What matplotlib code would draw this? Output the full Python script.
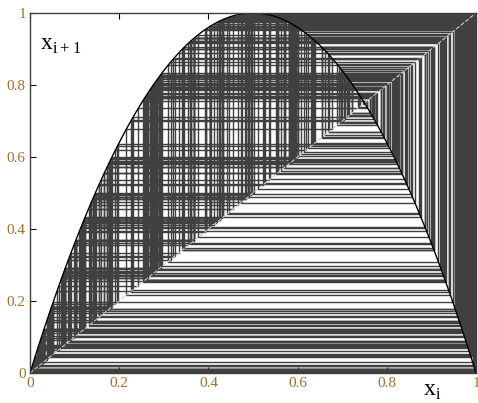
import matplotlib
matplotlib.use('Agg')
import matplotlib.pyplot as plt
import numpy as np

# logistic map settings (peak at 0.5 -> 1, fixed point at 0.75)
r = 4.0
x0 = 0.7501
n_iter = 400
xticks = [0, 0.2, 0.4, 0.6, 0.8, 1]
yticks = [0, 0.2, 0.4, 0.6, 0.8, 1]
tick_labels = ['0', '0.2', '0.4', '0.6', '0.8', '1']


def f(x):
    return r * x * (1 - x)


# build cobweb path
xs = [x0]
ys = [x0]
x = x0
for _ in range(n_iter):
    y = f(x)
    xs += [x, y]
    ys += [y, y]
    x = y

fig = plt.figure(figsize=(4.78, 4.03), dpi=100)
ax = fig.add_axes([30 / 478, 30 / 403, 446 / 478, 360 / 403])

ax.plot(xs, ys, color='#404040', lw=1.0)
grid = np.linspace(0, 1, 400)
ax.plot(grid, grid, color='#c8c8c8', lw=0.8, ls='--')
ax.plot(grid, f(grid), color='black', lw=1.0)

ax.set_xlim(0, 1)
ax.set_ylim(0, 1)
ax.set_xticks(xticks)
ax.set_yticks(yticks)
ax.set_xticklabels(tick_labels)
ax.set_yticklabels(tick_labels)
ax.tick_params(direction='in', length=4, top=True, right=False, width=0.8,
               labelsize=11, labelcolor='#a0702a', pad=3)
for lab in ax.get_xticklabels() + ax.get_yticklabels():
    lab.set_family('Liberation Serif')
for s in ax.spines.values():
    s.set_color('#404040')
    s.set_linewidth(1.0)

fig.text(40 / 478, 1 - 45 / 403, r'x$_{\mathregular{i+1}}$', fontsize=17,
         family='Liberation Serif', va='center')
fig.text(423 / 478, 1 - 392 / 403, r'x$_{\mathregular{i}}$', fontsize=17,
         family='Liberation Serif', va='center')

fig.savefig('out.png', dpi=100)
